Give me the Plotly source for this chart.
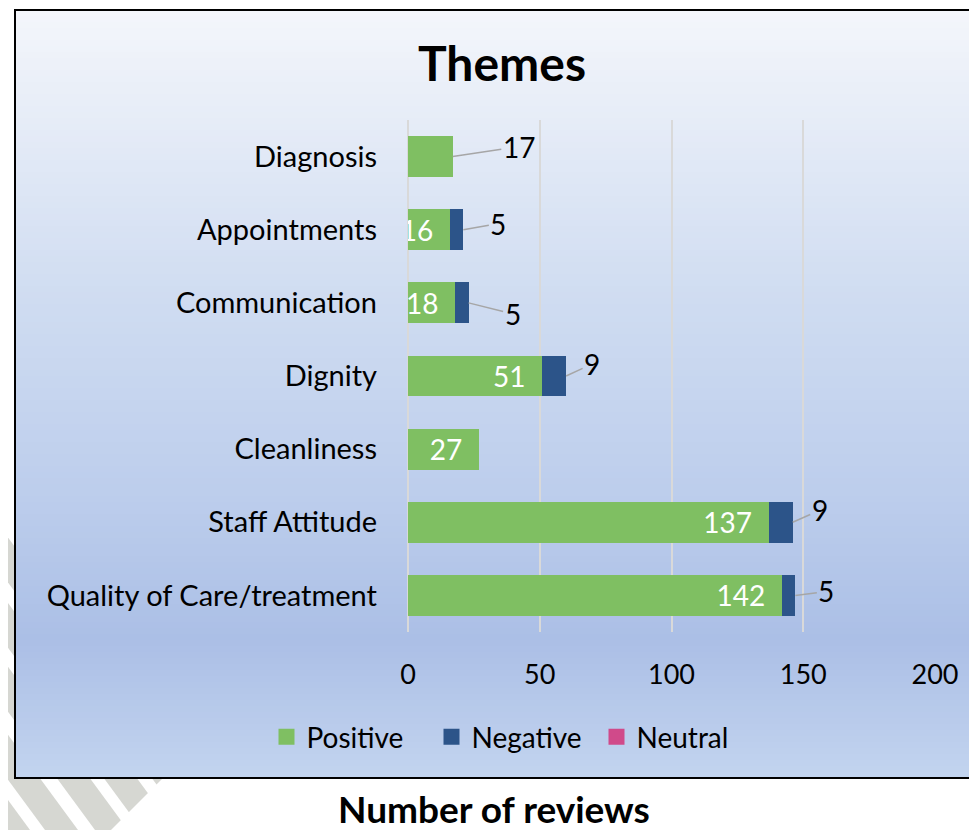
import plotly.graph_objects as go

# chart data (top to bottom as shown)
categories = ["Diagnosis", "Appointments", "Communication", "Dignity",
              "Cleanliness", "Staff Attitude", "Quality of Care/treatment"]
positive = [17, 16, 18, 51, 27, 137, 142]
negative = [0, 5, 5, 9, 0, 9, 5]
neutral = [0, 0, 0, 0, 0, 0, 0]
x_ticks = [0, 50, 100, 150, 200]

# labels that Excel pushed outside the bar, with leader-line offsets (px)
pos_outside = {"Diagnosis": (66, -10)}
neg_offsets = {"Appointments": (35, -6), "Communication": (44, 11), "Dignity": (26, -12),
               "Staff Attitude": (27, -12), "Quality of Care/treatment": (31, -4)}

GREEN = "#7fbf62"
NAVY = "#2c5489"
PINK = "#d04a8a"
FONT = "Lato"

# page offset of the plot div, and plot area (in figure pixels)
OFF = 8
W, H = 977, 830
L, R, T, B = 400, 50, 112, 206
PW, PH = W - L - R, H - T - B


def px(x):
    # x given in screenshot pixels
    return (x - OFF - L) / PW


def py(y):
    return (H - B - (y - OFF)) / PH


pos_text = ["" if c in pos_outside else f"{v}\u2002" for c, v in zip(categories, positive)]

fig = go.Figure()
fig.add_trace(go.Bar(
    y=categories, x=positive, name="Positive", orientation="h", showlegend=False,
    marker=dict(color=GREEN, line=dict(width=0)),
    text=pos_text, textposition="inside", insidetextanchor="end",
    textfont=dict(color="white", size=28, family=FONT),
))
fig.add_trace(go.Bar(
    y=categories, x=negative, name="Negative", orientation="h", showlegend=False,
    marker=dict(color=NAVY, line=dict(width=0)),
))
fig.add_trace(go.Bar(
    y=categories, x=neutral, name="Neutral", orientation="h", showlegend=False,
    marker=dict(color=PINK, line=dict(width=0)),
))

# legend entries with larger square keys
for name, col in [("Positive", GREEN), ("Negative", NAVY), ("Neutral", PINK)]:
    fig.add_trace(go.Scatter(x=[None], y=[None], mode="markers", name=name,
                             marker=dict(symbol="square", size=18, color=col)))

# outside labels with grey leader lines
for c, p, n in zip(categories, positive, negative):
    if c in pos_outside:
        ax, ay = pos_outside[c]
        fig.add_annotation(x=p + n, y=c, text=str(p), ax=ax, ay=ay, showarrow=True,
                           arrowhead=0, arrowwidth=1.5, arrowcolor="#a6a6a6",
                           font=dict(size=28, color="black", family=FONT))
    if n > 0:
        ax, ay = neg_offsets[c]
        fig.add_annotation(x=p + n, y=c, text=str(n), ax=ax, ay=ay, showarrow=True,
                           arrowhead=0, arrowwidth=1.5, arrowcolor="#a6a6a6",
                           font=dict(size=28, color="black", family=FONT))

shapes = []

# watermark stripes behind the chart box (slope ~1.36, cut along x + y = 941)
slope = 1.36
for c in [-3, 45, 95, 142, 190]:
    y_top, y_bot = 480, 840
    pts = [(c + (y_top - 830) / slope, y_top), (c + 33 + (y_top - 830) / slope, y_top),
           (c + 33 + (y_bot - 830) / slope, y_bot), (c + (y_bot - 830) / slope, y_bot)]
    path = "M " + " L ".join(f"{px(a)},{py(b)}" for a, b in pts) + " Z"
    shapes.append(dict(type="path", path=path, xref="paper", yref="paper",
                       fillcolor="#d6d7d2", line=dict(width=0), layer="below"))
cut = [(101, 840), (461, 480), (700, 480), (700, 840)]
shapes.append(dict(type="path", xref="paper", yref="paper", layer="below",
                   path="M " + " L ".join(f"{px(a)},{py(b)}" for a, b in cut) + " Z",
                   fillcolor="white", line=dict(width=0)))

# gradient background of the chart box
stops = [(10, (244, 246, 251)), (300, (207, 220, 241)), (500, (188, 205, 236)),
         (640, (171, 191, 230)), (778, (195, 212, 239))]


def colour_at(y):
    for (y0, c0), (y1, c1) in zip(stops[:-1], stops[1:]):
        if y0 <= y <= y1:
            t = (y - y0) / (y1 - y0)
            return "rgb(%d,%d,%d)" % tuple(round(a + (b - a) * t) for a, b in zip(c0, c1))
    return "rgb(%d,%d,%d)" % stops[-1][1]


box_l, box_r, box_t, box_b = 15, 1000, 10, 778
step = 6
for y in range(box_t, box_b, step):
    shapes.append(dict(type="rect", xref="paper", yref="paper",
                       x0=px(box_l), x1=px(box_r), y0=py(y), y1=py(min(y + step + 1, box_b)),
                       fillcolor=colour_at(y + step / 2), line=dict(width=0), layer="below"))
shapes.append(dict(type="rect", xref="paper", yref="paper",
                   x0=px(box_l), x1=px(box_r), y0=py(box_t), y1=py(box_b),
                   fillcolor="rgba(0,0,0,0)", line=dict(color="black", width=2), layer="above"))

fig.add_annotation(x=px(502), y=py(62), xref="paper", yref="paper", showarrow=False,
                   xanchor="center", yanchor="middle",
                   text="<b>Themes</b>", font=dict(size=48, color="black", family=FONT))
fig.add_annotation(x=px(494), y=py(808), xref="paper", yref="paper", showarrow=False,
                   xanchor="center", yanchor="middle",
                   text="<b>Number of reviews</b>", font=dict(size=37, color="black", family=FONT))

fig.update_layout(
    width=W, height=H,
    margin=dict(l=L, r=R, t=T, b=B, pad=0),
    barmode="stack", bargap=0.44,
    paper_bgcolor="white", plot_bgcolor="rgba(0,0,0,0)",
    font=dict(family=FONT, size=29, color="black"),
    uniformtext=dict(minsize=28, mode="show"),
    shapes=shapes,
    showlegend=True,
    legend=dict(orientation="h", x=px(514), y=py(737), xanchor="center", yanchor="middle",
                font=dict(size=28, color="black", family=FONT), bgcolor="rgba(0,0,0,0)",
                traceorder="normal", itemwidth=30, entrywidth=120),
    xaxis=dict(range=[0, 200], tickvals=x_ticks, showgrid=True, gridcolor="#d9d9d9",
               gridwidth=2, zeroline=True, zerolinecolor="#d9d9d9", zerolinewidth=2,
               showline=False, ticks="", ticklabelstandoff=24, fixedrange=True,
               tickfont=dict(size=27)),
    yaxis=dict(categoryorder="array", categoryarray=categories, autorange="reversed",
               showgrid=False, zeroline=False, showline=False, ticks="",
               ticklabelstandoff=30, fixedrange=True),
)

fig.write_html("out.html")
